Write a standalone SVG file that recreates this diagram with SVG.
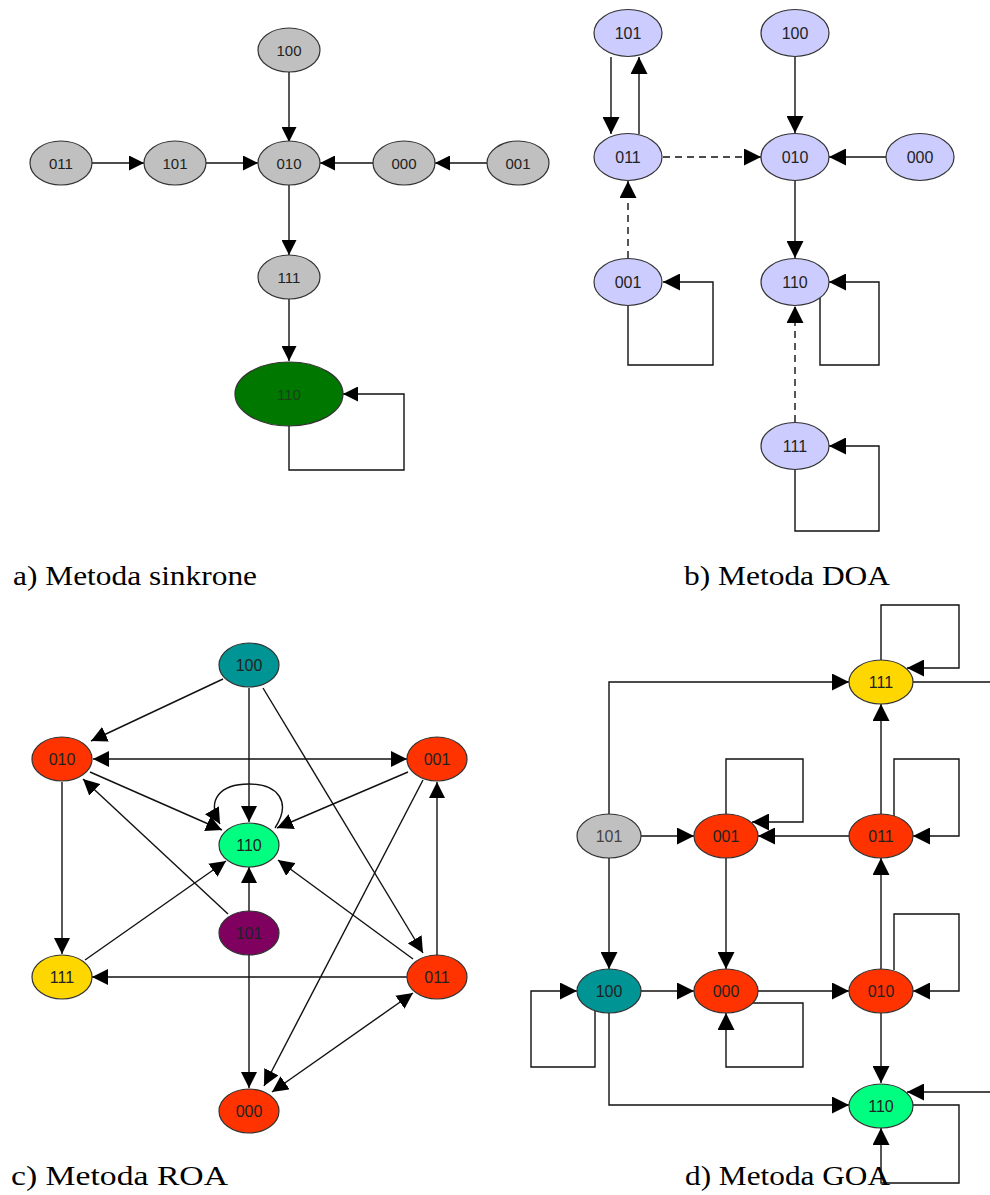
<svg xmlns="http://www.w3.org/2000/svg" width="990" height="1195" viewBox="0 0 990 1195">
<defs>
<marker id="m15" viewBox="0 0 15 15" markerWidth="15" markerHeight="15" refX="15" refY="7.5" orient="auto-start-reverse" markerUnits="userSpaceOnUse"><path d="M0,0 L15,7.5 L0,15 z" fill="#000"/></marker>
<marker id="m17" viewBox="0 0 17 17" markerWidth="17" markerHeight="17" refX="17" refY="8.5" orient="auto-start-reverse" markerUnits="userSpaceOnUse"><path d="M0,0 L17,8.5 L0,17 z" fill="#000"/></marker>
<marker id="m14" viewBox="0 0 16 16" markerWidth="16" markerHeight="16" refX="16" refY="8" orient="auto-start-reverse" markerUnits="userSpaceOnUse"><path d="M0,0 L16,8 L0,16 z" fill="#000"/></marker>
</defs>
<style>
.n{stroke:#333;stroke-width:1.2}
.t{font-family:"Liberation Sans",Arial,sans-serif;font-size:16px;fill:#222;text-anchor:middle;dominant-baseline:central}
.ta{font-size:15px}
.e{fill:none;stroke:#111;stroke-width:1.4}
.ea{marker-end:url(#m15)}
.eb{marker-end:url(#m17)}
.ec{marker-end:url(#m14)}
.ed{marker-end:url(#m17)}
.dash{stroke-dasharray:7,5}
.cap{font-family:"Liberation Serif","Times New Roman",serif;font-size:27px;fill:#000}
.gray{fill:#c0c0c0}
.lav{fill:#ccccff}
.red{fill:#ff3300}
.teal{fill:#009494}
.grn{fill:#00ff80}
.yel{fill:#ffd700}
.pur{fill:#800060}
</style>

<!-- Panel a connectors -->
<g id="edges-a">
<path class="e ea" d="M289,72 V142"/>
<path class="e ea" d="M92,163 H144"/>
<path class="e ea" d="M206,163 H258"/>
<path class="e ea" d="M373,163 H320"/>
<path class="e ea" d="M487,163 H435"/>
<path class="e ea" d="M289,185 V255"/>
<path class="e ea" d="M289,299 V361"/>
<path class="e ea" d="M289,426 V470 H404 V394 H343"/>
</g>
<g id="a-100"><ellipse class="n gray" cx="289" cy="50" rx="31" ry="22"/><text class="t ta" x="289" y="50">100</text></g>
<g id="a-011"><ellipse class="n gray" cx="61" cy="163" rx="31" ry="22"/><text class="t ta" x="61" y="163">011</text></g>
<g id="a-101"><ellipse class="n gray" cx="175" cy="163" rx="31" ry="22"/><text class="t ta" x="175" y="163">101</text></g>
<g id="a-010"><ellipse class="n gray" cx="289" cy="163" rx="31" ry="22"/><text class="t ta" x="289" y="163">010</text></g>
<g id="a-000"><ellipse class="n gray" cx="404" cy="163" rx="31" ry="22"/><text class="t ta" x="404" y="163">000</text></g>
<g id="a-001"><ellipse class="n gray" cx="518" cy="163" rx="31" ry="22"/><text class="t ta" x="518" y="163">001</text></g>
<g id="a-111"><ellipse class="n gray" cx="289" cy="277" rx="31" ry="22"/><text class="t ta" x="289" y="277">111</text></g>
<g id="a-110"><ellipse class="n" fill="#007800" cx="289" cy="394" rx="54" ry="32"/><text class="t ta" x="289" y="394" style="fill:#1a401a">110</text></g>

<!-- Panel b connectors -->
<g id="edges-b">
<path class="e eb" d="M611,57 V134"/>
<path class="e eb" d="M639,134 V57"/>
<path class="e eb dash" d="M663,157 H761"/>
<path class="e eb" d="M886,157 H829"/>
<path class="e eb" d="M795,57 V133"/>
<path class="e eb dash" d="M628,258 V181"/>
<path class="e eb" d="M795,181 V258"/>
<path class="e eb dash" d="M795,422 V306"/>
<path class="e eb" d="M628,306 V365 H713 V282 H663"/>
<path class="e eb" d="M820,298 V365 H879 V282 H829"/>
<path class="e eb" d="M795,469 V531 H879 V446 H829"/>
</g>
<g id="b-101"><ellipse class="n lav" cx="628" cy="33" rx="34" ry="23.5"/><text class="t" x="628" y="33">101</text></g>
<g id="b-100"><ellipse class="n lav" cx="795" cy="33" rx="34" ry="23.5"/><text class="t" x="795" y="33">100</text></g>
<g id="b-011"><ellipse class="n lav" cx="628" cy="157" rx="34" ry="23.5"/><text class="t" x="628" y="157">011</text></g>
<g id="b-010"><ellipse class="n lav" cx="795" cy="157" rx="34" ry="23.5"/><text class="t" x="795" y="157">010</text></g>
<g id="b-000"><ellipse class="n lav" cx="920" cy="157" rx="34" ry="23.5"/><text class="t" x="920" y="157">000</text></g>
<g id="b-001"><ellipse class="n lav" cx="628" cy="282" rx="34" ry="23.5"/><text class="t" x="628" y="282">001</text></g>
<g id="b-110"><ellipse class="n lav" cx="795" cy="282" rx="34" ry="23.5"/><text class="t" x="795" y="282">110</text></g>
<g id="b-111"><ellipse class="n lav" cx="795" cy="446" rx="34" ry="23.5"/><text class="t" x="795" y="446">111</text></g>

<!-- Panel c connectors -->
<g id="edges-c">
<path class="e ec" d="M223,679 L91,741"/>
<path class="e ec" d="M249,688 V822"/>
<path class="e ec" d="M263,688 L423,953"/>
<path class="e ec" d="M93,759 H407" style="marker-start:url(#m14)"/>
<path class="e ec" d="M90,772 L222,830"/>
<path class="e ec" d="M408,772 L277,828"/>
<path class="e ec" d="M423,780 L264,1086"/>
<path class="e ec" d="M62,782 V954"/>
<path class="e ec" d="M228,914 L83,779"/>
<path class="e ec" d="M275,828 C292,802 278,784 249,784 C220,784 206,800 220,824"/>
<path class="e ec" d="M249,911 V867"/>
<path class="e ec" d="M249,955 V1088"/>
<path class="e ec" d="M85,960 L226,861"/>
<path class="e ec" d="M413,959 L278,860"/>
<path class="e ec" d="M407,977 H92"/>
<path class="e ec" d="M437,956 V782"/>
<path class="e ec" d="M413,993 L272,1092" style="marker-start:url(#m14)"/>
</g>
<g id="c-100"><ellipse class="n teal" cx="249" cy="665" rx="30" ry="22"/><text class="t" x="249" y="665">100</text></g>
<g id="c-010"><ellipse class="n red" cx="62" cy="759" rx="30" ry="22"/><text class="t" x="62" y="759">010</text></g>
<g id="c-001"><ellipse class="n red" cx="437" cy="759" rx="30" ry="22"/><text class="t" x="437" y="759">001</text></g>
<g id="c-110"><ellipse class="n grn" cx="249" cy="845" rx="30" ry="22"/><text class="t" x="249" y="845">110</text></g>
<g id="c-101"><ellipse class="n pur" cx="249" cy="933" rx="30" ry="22"/><text class="t" x="249" y="933">101</text></g>
<g id="c-111"><ellipse class="n yel" cx="62" cy="977" rx="30" ry="22"/><text class="t" x="62" y="977">111</text></g>
<g id="c-011"><ellipse class="n red" cx="437" cy="977" rx="30" ry="22"/><text class="t" x="437" y="977">011</text></g>
<g id="c-000"><ellipse class="n red" cx="249" cy="1111" rx="30" ry="22"/><text class="t" x="249" y="1111">000</text></g>

<!-- Panel d connectors -->
<g id="edges-d">
<path class="e ed" d="M609,814 V682 H849"/>
<path class="e ed" d="M881,660 V605 H959 V668 H907"/>
<path class="e ed" d="M913,682 H1000 V1092 H907"/>
<path class="e ed" d="M881,814 V704"/>
<path class="e ed" d="M894,816 V759 H959 V836 H913"/>
<path class="e ed" d="M641,836 H694"/>
<path class="e ed" d="M849,836 H758"/>
<path class="e ed" d="M726,814 V759 H803 V822 H752"/>
<path class="e ed" d="M726,858 V969"/>
<path class="e ed" d="M609,858 V969"/>
<path class="e ed" d="M641,991 H694"/>
<path class="e ed" d="M595,1011 V1067 H531 V991 H577"/>
<path class="e ed" d="M758,991 H849"/>
<path class="e ed" d="M753,1003 H803 V1067 H726 V1013"/>
<path class="e ed" d="M881,969 V858"/>
<path class="e ed" d="M894,970 V914 H959 V991 H913"/>
<path class="e ed" d="M881,1013 V1083"/>
<path class="e ed" d="M609,1013 V1105 H849"/>
<path class="e ed" d="M913,1105 H959 V1183 H881 V1128"/>
</g>
<g id="d-111"><ellipse class="n yel" cx="881" cy="682" rx="32" ry="22"/><text class="t" x="881" y="682">111</text></g>
<g id="d-101"><ellipse class="n gray" cx="609" cy="836" rx="32" ry="22"/><text class="t" x="609" y="836" style="fill:#444">101</text></g>
<g id="d-001"><ellipse class="n red" cx="726" cy="836" rx="32" ry="22"/><text class="t" x="726" y="836">001</text></g>
<g id="d-011"><ellipse class="n red" cx="881" cy="836" rx="32" ry="22"/><text class="t" x="881" y="836">011</text></g>
<g id="d-100"><ellipse class="n teal" cx="609" cy="991" rx="32" ry="22"/><text class="t" x="609" y="991">100</text></g>
<g id="d-000"><ellipse class="n red" cx="726" cy="991" rx="32" ry="22"/><text class="t" x="726" y="991">000</text></g>
<g id="d-010"><ellipse class="n red" cx="881" cy="991" rx="32" ry="22"/><text class="t" x="881" y="991">010</text></g>
<g id="d-110"><ellipse class="n grn" cx="881" cy="1106" rx="32" ry="22"/><text class="t" x="881" y="1106">110</text></g>

<!-- Captions -->
<g id="captions">
<text class="cap" x="13" y="585" textLength="244" lengthAdjust="spacingAndGlyphs">a) Metoda sinkrone</text>
<text class="cap" x="684" y="585" textLength="206" lengthAdjust="spacingAndGlyphs">b) Metoda DOA</text>
<text class="cap" x="11" y="1185" textLength="217" lengthAdjust="spacingAndGlyphs">c) Metoda ROA</text>
<text class="cap" x="685" y="1185" textLength="205" lengthAdjust="spacingAndGlyphs">d) Metoda GOA</text>
</g>
</svg>
